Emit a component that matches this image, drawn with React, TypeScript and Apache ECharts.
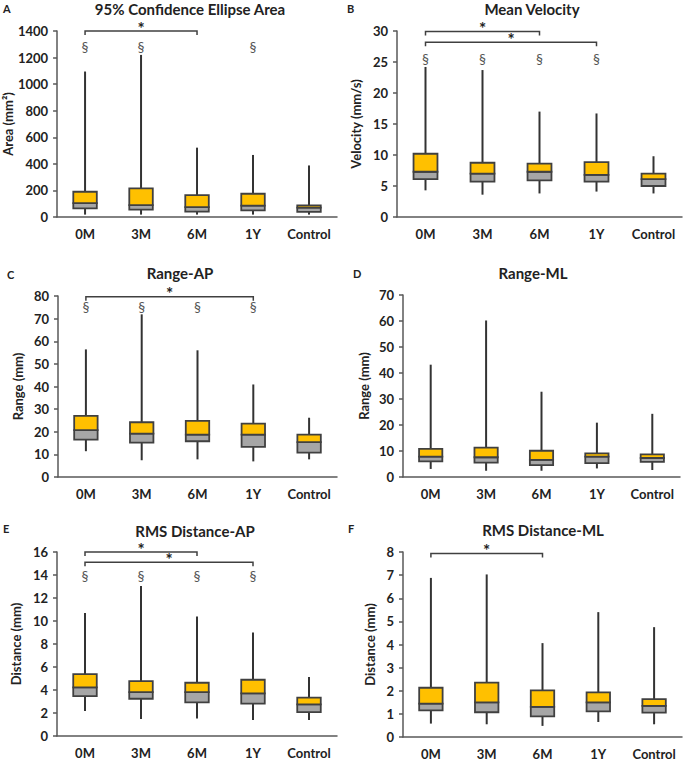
import React, { useEffect, useRef } from "react";
import * as echarts from "echarts";

// Categories
const categories = ["0M", "3M", "6M", "1Y", "Control"];

// Five-number rows per category: [min, Q1, median, Q3, max]
const ellipseArea = [
  [18, 65, 105, 190, 1095],
  [18, 55, 90, 215, 1220],
  [18, 40, 75, 165, 522],
  [18, 50, 85, 175, 467],
  [18, 38, 70, 88, 388],
];
const meanVelocity = [
  [4.3, 6.1, 7.3, 10.2, 24.2],
  [3.6, 5.7, 7.0, 8.75, 23.7],
  [3.8, 5.9, 7.3, 8.6, 17.0],
  [4.1, 5.7, 6.8, 8.85, 16.7],
  [3.8, 5.0, 6.1, 7.0, 9.8],
];
const rangeAP = [
  [11.4, 16.5, 20.7, 27.0, 56.4],
  [7.4, 15.2, 19.2, 24.2, 71.9],
  [7.8, 15.8, 18.7, 24.8, 56.0],
  [6.9, 13.3, 18.7, 23.6, 40.9],
  [7.8, 10.8, 15.4, 18.7, 26.2],
];
const rangeML = [
  [3.1, 6.0, 7.8, 10.8, 43.2],
  [2.4, 5.5, 7.6, 11.3, 60.2],
  [2.4, 4.6, 6.6, 10.1, 32.8],
  [3.3, 5.3, 7.8, 9.1, 20.9],
  [2.7, 5.8, 7.3, 8.7, 24.3],
];
const rmsAP = [
  [2.17, 3.47, 4.22, 5.38, 10.7],
  [1.48, 3.24, 3.82, 4.77, 13.05],
  [1.53, 2.92, 3.82, 4.63, 10.4],
  [1.39, 2.81, 3.7, 4.89, 9.0],
  [1.39, 2.08, 2.75, 3.33, 5.12],
];
const rmsML = [
  [0.58, 1.15, 1.44, 2.13, 6.88],
  [0.55, 1.07, 1.5, 2.35, 7.03],
  [0.48, 0.89, 1.3, 2.02, 4.06],
  [0.65, 1.11, 1.5, 1.93, 5.4],
  [0.55, 1.05, 1.35, 1.64, 4.75],
];

// Significance brackets: [fromCategory, toCategory, yValue]
const areaBrackets = [[0, 2, 1400]];
const velocityBrackets = [[0, 2, 29.9], [0, 3, 28.2]];
const rangeAPBrackets = [[0, 3, 79.7]];
const rmsAPBrackets = [[0, 2, 16.0], [0, 3, 15.1]];
const rmsMLBrackets = [[0, 2, 7.94]];

// Section marks: [category, yValue]
const areaMarks = [[0, 1280], [1, 1280], [3, 1280]];
const velocityMarks = [[0, 25.6], [1, 25.6], [2, 25.6], [3, 25.6]];
const rangeAPMarks = [[0, 75.3], [1, 75.3], [2, 75.3], [3, 75.3]];
const rmsAPMarks = [[0, 14.0], [1, 14.0], [2, 14.0], [3, 14.0]];

const panels = [
  { letter: "A", title: "95% Confidence Ellipse Area", yName: "Area (mm²)", max: 1400, interval: 200, data: ellipseArea, brackets: areaBrackets, marks: areaMarks,
    grid: { left: 52, top: 31, width: 285, height: 186 }, nameGap: 43, titleX: 190, titleY: 9, letterX: 3, letterY: 8 },
  { letter: "B", title: "Mean Velocity", yName: "Velocity (mm/s)", max: 30, interval: 5, data: meanVelocity, brackets: velocityBrackets, marks: velocityMarks,
    grid: { left: 397, top: 31, width: 285, height: 186 }, nameGap: 35, titleX: 532, titleY: 9, letterX: 347, letterY: 8 },
  { letter: "C", title: "Range-AP", yName: "Range (mm)", max: 80, interval: 10, data: rangeAP, brackets: rangeAPBrackets, marks: rangeAPMarks,
    grid: { left: 58, top: 296, width: 279, height: 181 }, nameGap: 34, titleX: 180, titleY: 273, letterX: 7, letterY: 274 },
  { letter: "D", title: "Range-ML", yName: "Range (mm)", max: 70, interval: 10, data: rangeML, brackets: [], marks: [],
    grid: { left: 403, top: 295, width: 277, height: 182 }, nameGap: 33, titleX: 533, titleY: 273, letterX: 353, letterY: 273 },
  { letter: "E", title: "RMS Distance-AP", yName: "Distance (mm)", max: 16, interval: 2, data: rmsAP, brackets: rmsAPBrackets, marks: rmsAPMarks,
    grid: { left: 57, top: 552, width: 280, height: 184 }, nameGap: 35, titleX: 195, titleY: 531, letterX: 3, letterY: 528 },
  { letter: "F", title: "RMS Distance-ML", yName: "Distance (mm)", max: 8, interval: 1, data: rmsML, brackets: rmsMLBrackets, marks: [],
    grid: { left: 403, top: 552, width: 279, height: 185 }, nameGap: 27, titleX: 543, titleY: 530, letterX: 348, letterY: 528 },
];

const FONT = "Lato, 'Open Sans', sans-serif";
const DARK = "#404040";
const YELLOW = "#FFC000";
const GRAY = "#A6A6A6";

function boxRender(params: any, api: any) {
  const x = api.value(0);
  const pMin = api.coord([x, api.value(1)]);
  const pQ1 = api.coord([x, api.value(2)]);
  const pMed = api.coord([x, api.value(3)]);
  const pQ3 = api.coord([x, api.value(4)]);
  const pMax = api.coord([x, api.value(5)]);
  const w = api.size([1, 0])[0] * 0.42;
  return {
    type: "group",
    children: [
      { type: "line", shape: { x1: pMin[0], y1: pMin[1], x2: pMax[0], y2: pMax[1] }, style: { stroke: "#333", lineWidth: 2 } },
      { type: "rect", shape: { x: pMed[0] - w / 2, y: pMed[1], width: w, height: pQ1[1] - pMed[1] }, style: { fill: GRAY, stroke: DARK, lineWidth: 1.8 } },
      { type: "rect", shape: { x: pQ3[0] - w / 2, y: pQ3[1], width: w, height: pMed[1] - pQ3[1] }, style: { fill: YELLOW, stroke: DARK, lineWidth: 1.8 } },
    ],
  };
}

function bracketRender(params: any, api: any) {
  const a = api.coord([api.value(0), api.value(2)]);
  const b = api.coord([api.value(1), api.value(2)]);
  const drop = 4;
  return {
    type: "group",
    children: [
      { type: "polyline", shape: { points: [[a[0], a[1] + drop], [a[0], a[1]], [b[0], a[1]], [b[0], a[1] + drop]] }, style: { stroke: DARK, lineWidth: 1.5, fill: "none" } },
      { type: "text", x: (a[0] + b[0]) / 2, y: a[1] - 3, style: { text: "*", fill: "#222", font: `bold 17px ${FONT}`, textAlign: "center", textVerticalAlign: "middle" } },
    ],
  };
}

function markRender(params: any, api: any) {
  const p = api.coord([api.value(0), api.value(1)]);
  return { type: "text", x: p[0], y: p[1], style: { text: "§", fill: "#555555", font: `14px ${FONT}`, textAlign: "center", textVerticalAlign: "middle" } };
}

export default function App() {
  const ref = useRef<HTMLDivElement>(null);
  useEffect(() => {
    if (!ref.current) return;
    const chart = echarts.init(ref.current, undefined, { renderer: "svg" });
    const grids: any[] = [];
    const xAxes: any[] = [];
    const yAxes: any[] = [];
    const series: any[] = [];
    const graphics: any[] = [];
    panels.forEach((p, i) => {
      grids.push({ ...p.grid, containLabel: false });
      xAxes.push({
        type: "category", gridIndex: i, data: categories,
        axisLine: { lineStyle: { color: "#595959", width: 1.5 } },
        axisTick: { show: false },
        axisLabel: { color: "#222", fontWeight: "bold", fontSize: 13, fontFamily: FONT, margin: 10, interval: 0 },
        splitLine: { show: false },
      });
      yAxes.push({
        type: "value", gridIndex: i, min: 0, max: p.max, interval: p.interval,
        name: p.yName, nameLocation: "middle", nameGap: p.nameGap, nameRotate: 90,
        nameTextStyle: { color: "#222", fontWeight: "bold", fontSize: 13, fontFamily: FONT },
        axisLine: { show: true, lineStyle: { color: "#595959", width: 1.5 } },
        axisTick: { show: true, length: 4, lineStyle: { color: "#595959", width: 1.5 } },
        axisLabel: { color: "#222", fontWeight: "bold", fontSize: 13, fontFamily: FONT, margin: 9, formatter: (v: number) => String(v) },
        splitLine: { show: false },
      });
      series.push({
        type: "custom", xAxisIndex: i, yAxisIndex: i, renderItem: boxRender,
        data: p.data.map((r, k) => [k, ...r]), encode: { x: 0, y: [1, 2, 3, 4, 5] },
      });
      if (p.brackets.length) {
        series.push({
          type: "custom", xAxisIndex: i, yAxisIndex: i, renderItem: bracketRender,
          data: p.brackets, encode: { x: [0, 1], y: 2 }, clip: false,
        });
      }
      if (p.marks.length) {
        series.push({
          type: "custom", xAxisIndex: i, yAxisIndex: i, renderItem: markRender,
          data: p.marks, encode: { x: 0, y: 1 }, clip: false,
        });
      }
      graphics.push({ type: "text", x: p.titleX, y: p.titleY, style: { text: p.title, fill: "#222", font: `bold 15px ${FONT}`, textAlign: "center", textVerticalAlign: "middle" } });
      graphics.push({ type: "text", x: p.letterX, y: p.letterY, style: { text: p.letter, fill: "#222", font: `bold 11px ${FONT}`, textAlign: "left", textVerticalAlign: "middle" } });
    });
    chart.setOption({
      animation: false,
      backgroundColor: "#ffffff",
      grid: grids,
      xAxis: xAxes,
      yAxis: yAxes,
      series,
      graphic: graphics,
    });
    return () => chart.dispose();
  }, []);
  return <div ref={ref} style={{ position: "absolute", left: 0, top: 0, width: 685, height: 760 }} />;
}
